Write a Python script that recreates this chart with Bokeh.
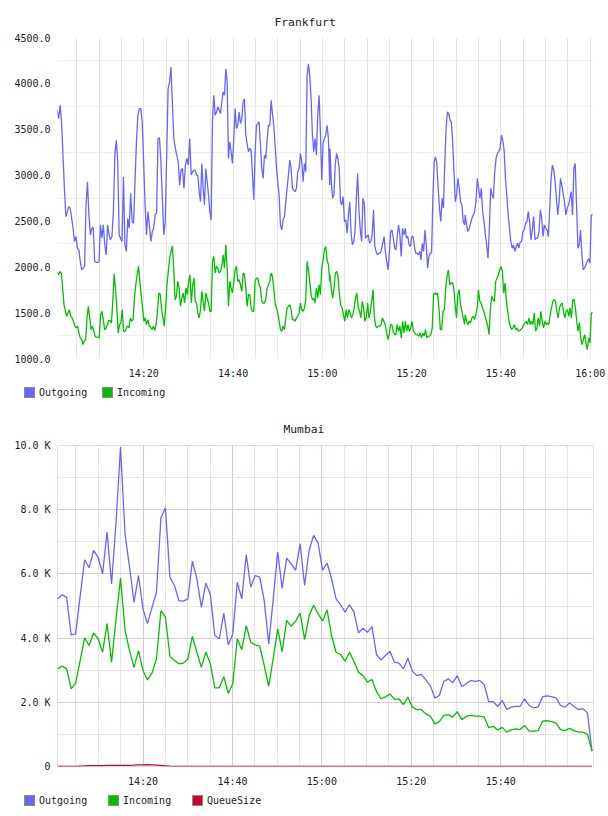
import numpy as np
from bokeh.plotting import figure
from bokeh.models import FixedTicker, Range1d, Div
from bokeh.layouts import column
from bokeh.embed import file_html
from bokeh.resources import INLINE

FONT = "DejaVu Sans Mono"
OUT_COLOR = "#6666ff"
IN_COLOR = "#00c000"
Q_COLOR = "#cc0033"

# ---- time axis (minutes after 14:00) ----
X_TICKS = [20, 40, 60, 80, 100, 120]
X_TICK_LABELS = ["14:20", "14:40", "15:00", "15:20", "15:40", "16:00"]

# ---- Frankfurt (samples ~ every 20 s), four consecutive stretches ----
FRA_SEG_TIMES = [(0.6, 31.25), (31.5, 61.65), (61.7, 91.85), (92.0, 120.55)]

FRA_OUT_1 = [3707, 3616, 3761, 3580, 3217, 2855, 2547, 2602, 2656, 2638,
             2529, 2420, 2275, 2330, 2203, 2185, 2058, 1967, 1986, 2004,
             2674, 2928, 2565, 2348, 2420, 2428, 2058, 2051, 2047, 2051,
             2457, 2312, 2457, 2239, 2130, 2457, 2348, 2294, 2330, 2602,
             3217, 3380, 3145, 2348, 2312, 2275, 2982, 2239, 2167, 2529,
             2420, 2801, 2493, 2475, 2928, 3362, 3652, 3725, 3725, 3580,
             3145, 2674, 2348, 2602, 2457, 2275, 2384, 2420, 2573, 2583,
             3399, 3406, 3145, 2746, 2348, 2493, 3217, 3942, 4014, 4178,
             3761, 3399, 3290, 3217, 3145, 2891, 3054, 3072, 2855, 3109,
             3181, 3109, 3399, 3000, 3036, 3054]
FRA_OUT_2 = [3054, 3000, 3000, 2819, 2710, 3127, 2855, 2674, 3072, 2928,
             2783, 2602, 2511, 3580, 3870, 3652, 3688, 3743, 3707, 3670,
             3797, 3906, 3870, 4159, 4014, 3181, 3362, 3254, 3127, 3399,
             3725, 3507, 3543, 3688, 3562, 3616, 3797, 3833, 3435, 3344,
             3254, 3290, 3272, 3000, 2728, 3254, 3543, 3562, 3580, 3326,
             3072, 2964, 3217, 3181, 3380, 3543, 3536, 3815, 3670, 3543,
             3326, 3091, 2928, 2783, 2457, 2402, 2511, 2547, 2710, 2855,
             3000, 3163, 3072, 2855, 2837, 2819, 2855, 3036, 3072, 3236,
             3145, 2928, 3127, 3036, 4069, 4214, 4087, 3833, 3435, 3254,
             3399, 3217, 3652, 3870, 3471, 2946, 3344, 3399, 3435, 3543,
             3399, 2891]
FRA_OUT_3 = [3290, 2928, 2746, 2783, 3109, 3236, 3181, 3072, 2710, 2674,
             2765, 2493, 2511, 2366, 2565, 2710, 2366, 2239, 2275, 2384,
             2746, 3018, 2602, 2402, 2275, 2746, 2692, 2312, 2330, 2348,
             2257, 2275, 2348, 2620, 2221, 2167, 2130, 2149, 2149, 2185,
             2257, 2330, 2167, 2058, 1967, 2149, 2384, 2402, 2312, 2203,
             2185, 2330, 2457, 2348, 2112, 2420, 2348, 2420, 2312, 2330,
             2239, 2221, 2330, 2330, 2221, 2149, 2149, 2130, 2167, 2076,
             2257, 2167, 2402, 2239, 1986, 2112, 2149, 2149, 2746, 3145,
             3199, 3127, 2855, 2638, 2493, 2746, 2638, 3109, 3507, 3688,
             3670, 3598, 3580, 3362, 3036, 2710, 2783, 2964, 2855, 2710,
             2674, 2493, 2457]
FRA_OUT_4 = [2565, 2457, 2384, 2420, 2475, 2529, 2565, 2602, 2710, 2964,
             2855, 2746, 2855, 2602, 2493, 2348, 2239, 2094, 2420, 2855,
             2783, 2746, 3036, 3181, 3236, 3254, 3290, 3435, 3380, 3272,
             2964, 2783, 2565, 2420, 2275, 2203, 2239, 2167, 2221, 2257,
             2203, 2275, 2275, 2384, 2402, 2475, 2493, 2602, 2493, 2294,
             2402, 2547, 2294, 2312, 2312, 2384, 2620, 2529, 2330, 2457,
             2420, 2402, 2330, 2638, 2964, 3109, 3054, 2928, 2746, 2565,
             2710, 2964, 2891, 2801, 2710, 2565, 2638, 2674, 2746, 2819,
             2565, 3072, 3127, 2674, 2203, 2239, 2402, 2130, 1967, 1986,
             2022, 2058, 2087, 2040, 2565, 2565]

FRA_IN_1 = [1949, 1913, 1949, 1931, 1768, 1587, 1515, 1460, 1497, 1533,
            1460, 1442, 1406, 1352, 1333, 1352, 1279, 1225, 1207, 1152,
            1189, 1207, 1442, 1569, 1442, 1315, 1352, 1297, 1243, 1232,
            1232, 1225, 1478, 1515, 1424, 1315, 1326, 1370, 1417, 1413,
            1388, 1623, 1920, 1768, 1551, 1279, 1370, 1388, 1533, 1297,
            1290, 1333, 1352, 1333, 1442, 1406, 1424, 1659, 1804, 1913,
            2004, 1841, 1696, 1551, 1406, 1442, 1370, 1424, 1352, 1341,
            1315, 1352, 1304, 1370, 1515, 1714, 1703, 1551, 1442, 1352,
            1551, 1804, 1949, 2094, 2167, 2228, 1986, 1641, 1678, 1841,
            1768, 1569, 1659, 1714, 1605, 1768, 1696, 1841, 1913, 1605,
            1804, 1877]
FRA_IN_2 = [1623, 1605, 1497, 1442, 1533, 1732, 1623, 1515, 1714, 1659,
            1605, 1515, 1515, 2058, 2112, 1931, 2004, 1986, 1931, 1949,
            2004, 2130, 1986, 2239, 1986, 1569, 1841, 1768, 1714, 1841,
            1967, 2004, 1841, 1859, 1804, 1732, 1931, 1913, 1768, 1569,
            1696, 1696, 1551, 1515, 1515, 1841, 1877, 1877, 1804, 1768,
            1623, 1605, 1605, 1641, 1768, 1804, 1841, 1931, 1895, 1768,
            1605, 1551, 1497, 1406, 1315, 1297, 1352, 1315, 1442, 1551,
            1569, 1587, 1533, 1424, 1424, 1406, 1442, 1460, 1497, 1605,
            1533, 1515, 1551, 1641, 2058, 1967, 1841, 1696, 1641, 1659,
            1605, 1768, 1659, 1804, 1696, 1986, 2076, 2185, 2221, 2076,
            2022, 1841]
FRA_IN_3 = [1913, 1768, 1659, 1768, 1931, 1949, 1895, 1696, 1587, 1551,
            1478, 1406, 1533, 1442, 1533, 1497, 1442, 1478, 1551, 1659,
            1714, 1551, 1515, 1442, 1623, 1551, 1406, 1442, 1605, 1442,
            1515, 1623, 1750, 1442, 1352, 1333, 1352, 1352, 1370, 1442,
            1406, 1370, 1297, 1207, 1261, 1370, 1370, 1297, 1261, 1261,
            1370, 1297, 1352, 1225, 1406, 1279, 1406, 1297, 1370, 1297,
            1333, 1406, 1297, 1279, 1261, 1261, 1243, 1279, 1225, 1279,
            1243, 1315, 1225, 1243, 1243, 1261, 1333, 1696, 1714, 1696,
            1714, 1551, 1315, 1315, 1515, 1533, 1768, 1895, 1967, 1804,
            1823, 1823, 1768, 1587, 1442, 1696, 1750, 1587, 1515, 1442,
            1370]
FRA_IN_4 = [1478, 1406, 1370, 1406, 1388, 1442, 1460, 1424, 1478, 1551,
            1750, 1623, 1605, 1551, 1515, 1460, 1406, 1352, 1261, 1551,
            1678, 1641, 1623, 1841, 1877, 1913, 1967, 2004, 1949, 1714,
            1823, 1623, 1515, 1406, 1352, 1315, 1333, 1370, 1315, 1333,
            1297, 1304, 1315, 1333, 1370, 1388, 1406, 1370, 1442, 1370,
            1406, 1370, 1497, 1297, 1333, 1442, 1352, 1515, 1406, 1333,
            1406, 1370, 1388, 1370, 1478, 1551, 1623, 1641, 1623, 1515,
            1442, 1551, 1587, 1605, 1515, 1442, 1515, 1533, 1460, 1551,
            1442, 1641, 1641, 1551, 1406, 1297, 1388, 1225, 1152, 1207,
            1261, 1171, 1098, 1225, 1171, 1497, 1497]

FRA_Y_TICKS = [1000, 1500, 2000, 2500, 3000, 3500, 4000, 4500]
FRA_Y_LABELS = ["1000.0", "1500.0", "2000.0", "2500.0", "3000.0", "3500.0", "4000.0", "4500.0"]

# ---- Mumbai (one sample per minute) ----
MUM_T0, MUM_T1 = 0.92, 120.4
MUM_OUT = [5220, 5350, 5270, 4100, 4130, 5300, 6440, 6190, 6730, 6520,
           6000, 7300, 5690, 7600, 9950, 7250, 6210, 5120, 5950, 4910,
           4450, 4950, 5430, 7750, 8060, 5900, 5640, 5170, 5150, 5220,
           6400, 5850, 4960, 5710, 5360, 4080, 3980, 4780, 3790, 4130,
           5740, 5220, 6600, 5590, 5950, 5900, 5170, 3820, 5200, 6680,
           5550, 6490, 6310, 6110, 6940, 5640, 6730, 7200, 6960, 6120,
           6340, 5850, 5220, 5040, 4810, 5040, 4810, 4160, 4310, 4180,
           4360, 3490, 3320, 3460, 3590, 3250, 3220, 3040, 3370, 2970,
           2830, 2870, 2700, 2520, 2130, 2210, 2650, 2730, 2610, 2830,
           2490, 2580, 2680, 2650, 2680, 2550, 2020, 2020, 1870, 2060,
           1780, 1850, 1870, 1870, 2110, 1900, 1830, 1850, 2180, 2200,
           2180, 2140, 1900, 1850, 1980, 1870, 1770, 1800, 1670, 480]
MUM_IN = [3040, 3130, 3040, 2420, 2600, 3300, 4010, 3770, 4160, 3980,
          3560, 4450, 3250, 4600, 5870, 4240, 3610, 3090, 3610, 2990,
          2700, 2910, 3350, 4860, 4650, 3430, 3300, 3200, 3220, 3350,
          4050, 3560, 3090, 3560, 3200, 2450, 2450, 2800, 2280, 2580,
          3980, 3640, 4390, 3870, 3790, 3750, 3150, 2500, 3360, 4290,
          3580, 4550, 4370, 4530, 4780, 3950, 4700, 5020, 4760, 4530,
          4880, 4080, 3560, 3490, 3280, 3560, 3270, 2940, 2830, 2630,
          2710, 2340, 2110, 2170, 2260, 2090, 2110, 1930, 2160, 1850,
          1770, 1770, 1640, 1570, 1330, 1400, 1590, 1610, 1540, 1710,
          1460, 1560, 1590, 1570, 1570, 1540, 1210, 1250, 1140, 1220,
          1070, 1140, 1170, 1150, 1280, 1100, 1100, 1120, 1410, 1430,
          1400, 1350, 1150, 1120, 1190, 1120, 1070, 1070, 1000, 480]
MUM_QUEUE = [0, 0, 0, 0, 0, 10, 20, 25, 28, 30,
             30, 32, 34, 35, 35, 36, 38, 42, 48, 52,
             55, 50, 42, 32, 22, 12, 5, 0, 0, 0,
             0, 0, 0, 0, 0, 0, 0, 0, 0, 0,
             0, 0, 0, 0, 0, 0, 0, 0, 0, 0,
             0, 0, 0, 0, 0, 0, 0, 0, 0, 0,
             0, 0, 0, 0, 0, 0, 0, 0, 0, 0,
             0, 0, 0, 0, 0, 0, 0, 0, 0, 0,
             0, 0, 0, 0, 0, 0, 0, 0, 0, 0,
             0, 0, 0, 0, 0, 0, 0, 0, 0, 0,
             0, 0, 0, 0, 0, 0, 0, 0, 0, 0,
             0, 0, 0, 0, 0, 0, 0, 0, 0, 0]
MUM_Y_TICKS = [0, 2000, 4000, 6000, 8000, 10000]
MUM_Y_LABELS = ["0", "2.0 K", "4.0 K", "6.0 K", "8.0 K", "10.0 K"]


def seg_series(segs):
    xs, ys = [], []
    for (t0, t1), vals in zip(FRA_SEG_TIMES, segs):
        xs.extend(np.linspace(t0, t1, len(vals)).tolist())
        ys.extend(vals)
    return xs, ys


def base_fig(title, height, top, bottom, right, xr, yr, title_offset, standoff):
    p = figure(width=608, height=height, output_backend="svg", toolbar_location=None,
               x_range=Range1d(*xr), y_range=Range1d(*yr),
               min_border_left=57, min_border_right=right,
               min_border_top=top, min_border_bottom=bottom)
    p.title.text = title
    p.title.align = "left"
    p.title.offset = title_offset
    p.title.standoff = standoff
    p.title.text_font = FONT
    p.title.text_font_size = "11.3px"
    p.title.text_font_style = "normal"
    p.title.text_color = "#222222"
    for ax in (p.xaxis[0], p.yaxis[0]):
        ax.axis_line_color = None
        ax.major_tick_line_color = None
        ax.minor_tick_line_color = None
        ax.major_tick_out = 0
        ax.major_tick_in = 0
        ax.minor_tick_out = 0
        ax.major_label_text_font = FONT
        ax.major_label_text_font_size = "10px"
        ax.major_label_text_color = "#222222"
    p.yaxis[0].major_label_standoff = 7
    p.xaxis[0].major_label_standoff = 9
    p.background_fill_color = "white"
    p.border_fill_color = "white"
    return p


def legend_strip(entries, height, top, step):
    """HTML strip under a chart with colour swatches and series names."""
    parts = []
    for i, (label, color) in enumerate(entries):
        left = 24 + i * step
        parts.append(
            f'<span style="position:absolute;left:{left}px;top:{top}px;width:11px;height:11px;'
            f'box-sizing:border-box;background:{color};border:1px solid #8a8a8a;"></span>'
            f'<span style="position:absolute;left:{left + 15}px;top:{top - 1}px;'
            f'line-height:13px;white-space:nowrap;">{label}</span>')
    html = (f'<div style="position:relative;width:608px;height:{height}px;'
            f"font-family:'{FONT}';font-size:10px;color:#222222;background:white;\">"
            + "".join(parts) + "</div>")
    return Div(text=html, width=608, height=height, margin=0)


# ---------- Frankfurt ----------
p1 = base_fig("Frankfurt", 384, 37, 26, 15, (0.66, 120.74), (1000, 4500), 217, 17)
p1.outline_line_color = None
p1.xaxis[0].ticker = FixedTicker(ticks=X_TICKS)
p1.xaxis[0].major_label_overrides = dict(zip(X_TICKS, X_TICK_LABELS))
p1.yaxis[0].ticker = FixedTicker(ticks=FRA_Y_TICKS)
p1.yaxis[0].major_label_overrides = dict(zip(FRA_Y_TICKS, FRA_Y_LABELS))
p1.xgrid.ticker = FixedTicker(ticks=list(range(5, 121, 5)))
p1.xgrid.grid_line_color = "#e6e6e6"
p1.ygrid.ticker = FixedTicker(ticks=[t + 250 for t in FRA_Y_TICKS[:-1]])
p1.ygrid.grid_line_color = "#eeeeee"

fx, fo = seg_series([FRA_OUT_1, FRA_OUT_2, FRA_OUT_3, FRA_OUT_4])
gx, gi = seg_series([FRA_IN_1, FRA_IN_2, FRA_IN_3, FRA_IN_4])
p1.line(fx, fo, line_color=OUT_COLOR, line_width=1.3)
p1.line(gx, gi, line_color=IN_COLOR, line_width=1.3)
l1 = legend_strip([("Outgoing", OUT_COLOR), ("Incoming", IN_COLOR)], 26, 3, 78)

# ---------- Mumbai ----------
p2 = base_fig("Mumbai", 380, 35, 24, 14, (0.88, 120.74), (0, 10000), 226, 20)
p2.outline_line_color = "#ead6ea"
p2.xaxis[0].ticker = FixedTicker(ticks=X_TICKS[:-1])
p2.xaxis[0].major_label_overrides = dict(zip(X_TICKS[:-1], X_TICK_LABELS[:-1]))
p2.yaxis[0].ticker = FixedTicker(ticks=MUM_Y_TICKS)
p2.yaxis[0].major_label_overrides = dict(zip(MUM_Y_TICKS, MUM_Y_LABELS))
p2.xgrid.ticker = FixedTicker(ticks=X_TICKS[:-1],
                              minor_ticks=[m for m in range(5, 120, 5) if m % 20])
p2.xgrid.grid_line_color = "#dcc4dc"
p2.xgrid.minor_grid_line_color = "#e8e2e8"
p2.ygrid.ticker = FixedTicker(ticks=MUM_Y_TICKS[1:-1],
                              minor_ticks=[1000, 3000, 5000, 7000, 9000])
p2.ygrid.grid_line_color = "#e2cae2"
p2.ygrid.minor_grid_line_color = "#e8e4e8"

mx = np.linspace(MUM_T0, MUM_T1, len(MUM_OUT)).tolist()
p2.line(mx, MUM_OUT, line_color=OUT_COLOR, line_width=1.3)
p2.line(mx, MUM_IN, line_color=IN_COLOR, line_width=1.3)
p2.line(mx, MUM_QUEUE, line_color=Q_COLOR, line_width=1.3)
l2 = legend_strip([("Outgoing", OUT_COLOR), ("Incoming", IN_COLOR), ("QueueSize", Q_COLOR)],
                  26, 5, 84)

layout = column(p1, l1, p2, l2, spacing=0)
open("out.html", "w").write(file_html(layout, INLINE))
